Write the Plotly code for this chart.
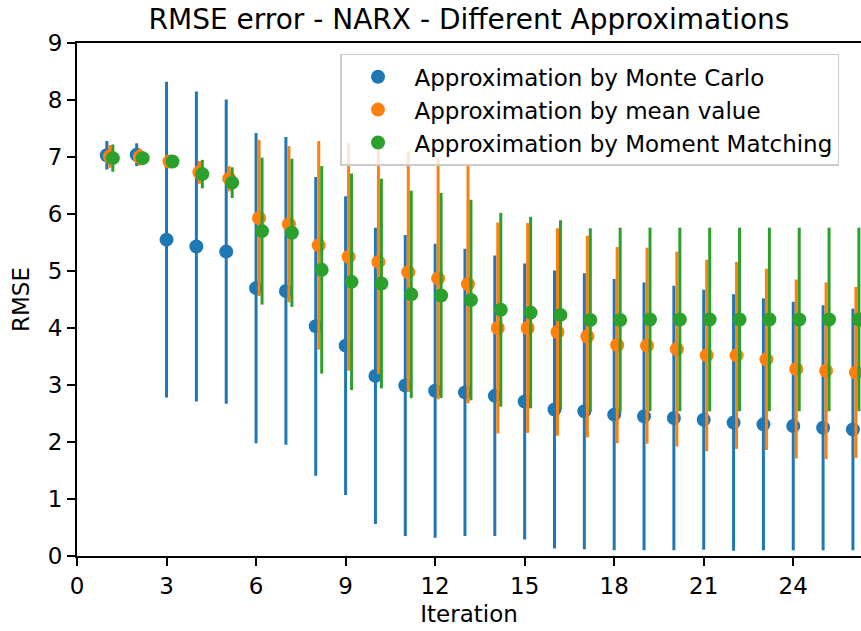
import plotly.graph_objects as go

iterations = list(range(1, 27))

mc_mean = [7.03, 7.04, 5.55, 5.43, 5.34, 4.70, 4.65, 4.03, 3.69, 3.16, 2.99, 2.90, 2.87,
           2.81, 2.71, 2.57, 2.54, 2.48, 2.45, 2.42, 2.39, 2.34, 2.31, 2.28, 2.25, 2.22]
mc_err = [0.25, 0.20, 2.77, 2.72, 2.67, 2.72, 2.70, 2.62, 2.62, 2.60, 2.64, 2.58, 2.52,
          2.46, 2.42, 2.44, 2.42, 2.38, 2.35, 2.32, 2.28, 2.25, 2.21, 2.18, 2.15, 2.12]

mv_mean = [7.01, 7.00, 6.92, 6.73, 6.62, 5.93, 5.82, 5.45, 5.25, 5.16, 4.98, 4.87, 4.77,
           4.00, 4.00, 3.93, 3.85, 3.70, 3.69, 3.63, 3.52, 3.52, 3.45, 3.28, 3.25, 3.22]
mv_err = [0.20, 0.15, 0.10, 0.20, 0.22, 1.37, 1.37, 1.83, 2.00, 1.97, 2.10, 2.12, 2.09,
          1.85, 1.84, 1.82, 1.77, 1.72, 1.72, 1.71, 1.68, 1.64, 1.59, 1.57, 1.55, 1.50]

mm_mean = [6.98, 6.98, 6.92, 6.70, 6.55, 5.70, 5.67, 5.02, 4.81, 4.78, 4.59, 4.57, 4.49,
           4.32, 4.27, 4.23, 4.14, 4.14, 4.15, 4.15, 4.15, 4.15, 4.15, 4.15, 4.15, 4.15]
mm_err = [0.24, 0.10, 0.10, 0.25, 0.27, 1.29, 1.30, 1.82, 1.90, 1.84, 1.82, 1.80, 1.76,
          1.70, 1.68, 1.66, 1.61, 1.62, 1.61, 1.61, 1.61, 1.61, 1.61, 1.61, 1.61, 1.61]

series = [
    ("Approximation by Monte Carlo", mc_mean, mc_err, "#1f77b4", 0.0),
    ("Approximation by mean value", mv_mean, mv_err, "#ff7f0e", 0.1),
    ("Approximation by Moment Matching", mm_mean, mm_err, "#2ca02c", 0.2),
]

FONT = "DejaVu Sans"

fig = go.Figure()
for i, (name, mean, err, color, off) in enumerate(series):
    fig.add_trace(go.Scatter(
        x=[it + off for it in iterations], y=mean, mode="markers", name=name,
        marker=dict(color=color, size=14),
        error_y=dict(type="data", array=err, visible=True, color=color,
                     thickness=3, width=0),
        legendgroup=f"g{i}",
    ))

axis_common = dict(showline=True, linecolor="black", linewidth=1.8,
                   ticks="outside", ticklen=8, tickwidth=1.8, tickcolor="black",
                   showgrid=False, zeroline=False,
                   tickfont=dict(family=FONT, size=23, color="black"))

fig.update_layout(
    width=861, height=631,
    margin=dict(l=77, r=0, t=43, b=75),
    paper_bgcolor="white", plot_bgcolor="white",
    font=dict(family=FONT, size=23, color="black"),
    title=dict(text="RMSE error - NARX - Different Approximations",
               font=dict(family=FONT, size=28, color="black"),
               x=0.5, xanchor="center", xref="paper",
               y=1 - 19 / 631, yanchor="middle", yref="container"),
    xaxis=dict(range=[0, 26.27], tickvals=list(range(0, 25, 3)), mirror=True,
               title=dict(text="Iteration", font=dict(family=FONT, size=23, color="black"),
                          standoff=8),
               **axis_common),
    yaxis=dict(range=[0, 9], tickvals=list(range(0, 10)), mirror=False,
               title=dict(text="RMSE", font=dict(family=FONT, size=23, color="black"),
                          standoff=12),
               **axis_common),
    legend=dict(x=0.3355, y=0.979, xanchor="left", yanchor="top",
                bgcolor="rgba(255,255,255,0.8)", bordercolor="#cccccc", borderwidth=1.5,
                font=dict(family=FONT, size=23, color="black"),
                itemwidth=63,
                traceorder="grouped", tracegroupgap=0),
    showlegend=True,
)

fig.write_html("out.html")
